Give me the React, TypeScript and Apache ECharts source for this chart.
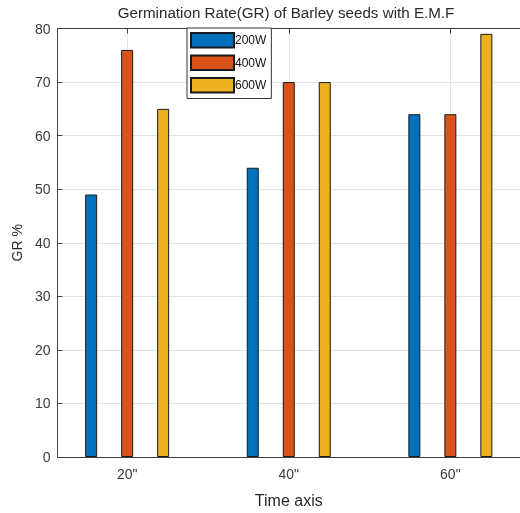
import React, { useEffect, useRef } from "react";
import * as echarts from "echarts";

const xValues = [20, 40, 60];
const tickLabels = ['20"', '40"', '60"'];
const seriesNames = ["200W", "400W", "600W"];
const values200W = [49, 54, 64];
const values400W = [76, 70, 64];
const values600W = [65, 70, 79];
const yTicks = [0, 10, 20, 30, 40, 50, 60, 70, 80];

const colors = ["#0072BD", "#D95319", "#EDB120"];

export default function App() {
  const ref = useRef<HTMLDivElement>(null);
  useEffect(() => {
    if (!ref.current) return;
    const chart = echarts.init(ref.current, null, { renderer: "svg" });
    const all = [values200W, values400W, values600W];
    const font = "'Liberation Sans', Arial, sans-serif";
    const labelFor = (v: number) => {
      const i = xValues.indexOf(v);
      return i >= 0 ? tickLabels[i] : "";
    };
    const axisColor = "#404040";
    chart.setOption({
      animation: false,
      textStyle: { fontFamily: font },
      title: {
        text: "Germination Rate(GR) of Barley seeds with E.M.F",
        left: 286,
        top: 5,
        padding: 0,
        textAlign: "center",
        textStyle: { fontSize: 15.2, fontWeight: "normal", color: "#2a2a2a", fontFamily: font },
      },
      legend: {
        orient: "vertical",
        left: 187,
        top: 28,
        itemWidth: 43,
        itemHeight: 14.5,
        itemGap: 6,
        padding: [4, 5, 5, 3],
        borderColor: "#333",
        borderWidth: 1,
        backgroundColor: "#fff",
        icon: "rect",
        textStyle: { fontSize: 12, color: "#111", fontFamily: font, padding: [0, 0, 0, -4] },
        data: seriesNames,
      },
      grid: { left: 57.5, top: 28.5, width: 468, height: 432, containLabel: false },
      xAxis: [
        {
          type: "value",
          position: "bottom",
          min: 11.38,
          max: 68.62,
          name: "Time axis",
          nameLocation: "middle",
          nameGap: 35,
          nameTextStyle: { fontSize: 16, color: "#2a2a2a", fontFamily: font },
          axisLine: { show: true, lineStyle: { color: axisColor, width: 1 } },
          axisTick: { show: true, inside: true, length: 5, customValues: xValues, lineStyle: { color: axisColor } },
          axisLabel: { customValues: xValues, formatter: labelFor, fontSize: 14, color: "#3a3a3a", margin: 10 },
          splitLine: { show: true, lineStyle: { color: "#e3e3e3", width: 1 } },
        },
        {
          type: "value",
          position: "top",
          min: 11.38,
          max: 68.62,
          axisLine: { show: true, onZero: false, lineStyle: { color: axisColor, width: 1 } },
          axisTick: { show: true, inside: true, length: 5, customValues: xValues, lineStyle: { color: axisColor } },
          axisLabel: { show: false },
          splitLine: { show: false },
        },
      ],
      yAxis: {
        type: "value",
        min: 0,
        max: 80,
        interval: 10,
        name: "GR %",
        nameLocation: "middle",
        nameGap: 28,
        nameRotate: 90,
        nameTextStyle: { fontSize: 14, color: "#2a2a2a", fontFamily: font },
        axisLine: { show: true, lineStyle: { color: axisColor, width: 1 } },
        axisTick: { show: true, inside: true, length: 5, lineStyle: { color: axisColor } },
        axisLabel: { fontSize: 14, color: "#3a3a3a", margin: 7, formatter: (v: number) => (yTicks.includes(v) ? String(v) : "") },
        splitLine: { show: true, lineStyle: { color: "#e3e3e3", width: 1 } },
      },
      series: seriesNames.map((name, i) => ({
        name,
        type: "bar",
        xAxisIndex: 0,
        data: xValues.map((x, j) => [x, all[i][j]]),
        barWidth: 12,
        barGap: "200%",
        itemStyle: { color: colors[i], borderColor: "#1a1a1a", borderWidth: 1 },
      })),
    });
    return () => chart.dispose();
  }, []);
  return <div ref={ref} style={{ position: "fixed", left: 0, top: 0, width: 520, height: 513 }} />;
}
